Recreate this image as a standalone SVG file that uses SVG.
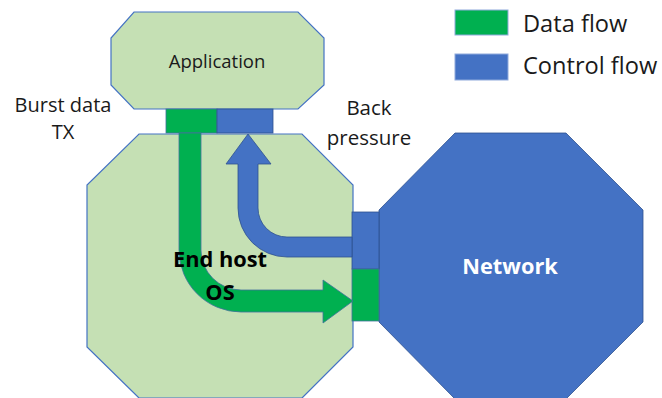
<svg xmlns="http://www.w3.org/2000/svg" width="662" height="398" viewBox="0 0 662 398">
<style>
.host{fill:#C5E0B4;stroke:#4472C4;stroke-width:1.2}
.g{fill:#00B050;stroke:#41719C;stroke-width:0.8}
.b{fill:#4472C4;stroke:#2F528F;stroke-width:0.8}
.t{font-family:"Open Sans",sans-serif;fill:#1a1a1a}
.bold{font-family:"Open Sans",sans-serif;font-weight:bold}
</style>
<rect width="662" height="398" fill="#ffffff"/>
<g id="endhost">
<polygon class="host" points="139,134 302,134 353,185 353,347 302,398 139,398 87,347 87,185"/>
</g>
<g id="application">
<polygon class="host" points="134,12 298,12 324,38 324,85 298,109 134,109 111,85 111,38"/>
<text class="t" x="217" y="68" font-size="18.5" text-anchor="middle">Application</text>
</g>
<g id="app-ports">
<rect class="g" x="166" y="109" width="51" height="24"/>
<rect class="b" x="217" y="109" width="56" height="24"/>
</g>
<g id="network">
<polygon class="b" points="455,133 566,133 643,210 643,322 566,399 455,399 379,322 379,210"/>
<text class="bold" x="510" y="274" font-size="21.8" fill="#ffffff" text-anchor="middle">Network</text>
</g>
<g id="net-ports">
<rect class="b" x="352" y="212" width="27" height="57"/>
<rect class="g" x="352" y="269" width="27" height="52"/>
</g>
<g id="connectors">
<path class="g" d="M179,133 L179,250 A62,62 0 0 0 241,312 L323,312 L323,323 L353,301 L323,280 L323,290 L241,290 A40,40 0 0 1 201,250 L201,133 Z"/>
<path class="b" d="M248,134 L271,164 L258,164 L258,208 A29,29 0 0 0 287,237 L352,237 L352,257 L287,257 A49,49 0 0 1 238,208 L238,164 L226,164 Z"/>
</g>
<g id="endhost-label">
<text class="bold" x="220" y="267" font-size="21.8" fill="#000000" text-anchor="middle">End host</text>
<text class="bold" x="220" y="300" font-size="21.8" fill="#000000" text-anchor="middle">OS</text>
</g>
<g id="burst-label">
<text class="t" x="63" y="111.5" font-size="20" text-anchor="middle">Burst data</text>
<text class="t" x="63" y="139" font-size="20" text-anchor="middle">TX</text>
</g>
<g id="back-label">
<text class="t" x="369" y="115" font-size="20.5" text-anchor="middle">Back</text>
<text class="t" x="369" y="145" font-size="20.5" text-anchor="middle">pressure</text>
</g>
<g id="legend">
<rect x="455" y="10" width="53" height="25" fill="#00B050" stroke="#8FAADC" stroke-width="1"/>
<rect x="455" y="54" width="53" height="26" fill="#4472C4" stroke="#8FAADC" stroke-width="1"/>
<text class="t" x="523" y="32" font-size="23.6">Data flow</text>
<text class="t" x="523" y="74" font-size="23.6">Control flow</text>
</g>
</svg>
